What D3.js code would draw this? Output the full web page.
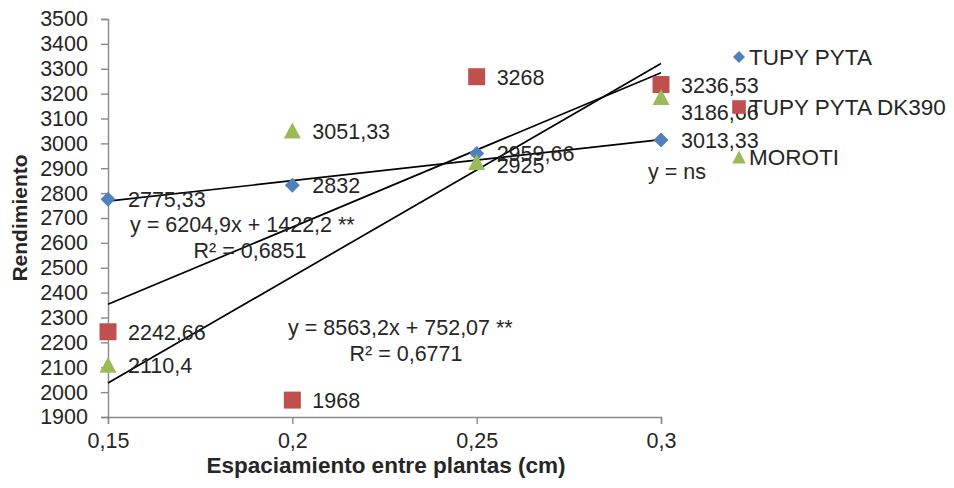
<!DOCTYPE html>
<html><head><meta charset="utf-8">
<script src="https://cdn.jsdelivr.net/npm/d3@7"></script>
<style>body{margin:0;background:#fff}text{font-family:"Liberation Sans",Arial,sans-serif;fill:#262626}</style>
</head><body><svg id="c" width="954" height="488"></svg>
<script>
const spacing = [0.15, 0.2, 0.25, 0.3];
const tupyPyta = [2775.33, 2832, 2959.66, 3013.33];
const tupyPytaDK390 = [2242.66, 1968, 3268, 3236.53];
const moroti = [2110.4, 3051.33, 2925, 3186.66];
const tupyPytaLabels = ["2775,33", "2832", "2959,66", "3013,33"];
const dk390Labels = ["2242,66", "1968", "3268", "3236,53"];
const morotiLabels = ["2110,4", "3051,33", "2925", "3186,66"];
const seriesNames = ["TUPY PYTA", "TUPY PYTA DK390", "MOROTI"];
const colors = ["#4F81BD", "#C0504D", "#9BBB59"];
// trendlines: [slope, intercept]
const trendNs = [1650, 2520];
const trendA = [6204.9, 1422.2];
const trendB = [8563.2, 752.07];
const yTicks = d3.range(1900, 3501, 100);
const xTicks = [0.15, 0.2, 0.25, 0.3];
const xTickLabels = ["0,15", "0,2", "0,25", "0,3"];

const FS = "21.5px";
const svg = d3.select("#c");
const x = d3.scaleLinear().domain([0.15, 0.3]).range([108, 661]);
const y = d3.scaleLinear().domain([1900, 3500]).range([417, 19]);

// axes
const yAxis = svg.append("g").attr("transform", "translate(108,0)")
  .call(d3.axisLeft(y).tickValues(yTicks).tickSize(7).tickSizeOuter(7).tickFormat(d3.format("d")));
const xAxis = svg.append("g").attr("transform", "translate(0,417)")
  .call(d3.axisBottom(x).tickValues(xTicks).tickSize(7).tickSizeOuter(7).tickFormat((d,i)=>xTickLabels[i]));
[yAxis, xAxis].forEach(g => {
  g.selectAll("path,line").attr("stroke", "#898989").attr("stroke-width", 1.4);
  g.selectAll("text").style("font-size", FS).attr("fill", "#262626");
});
yAxis.selectAll("text").attr("x", -20);
xAxis.selectAll("text").attr("y", 16);

// trend lines
[trendNs, trendA, trendB].forEach(t => {
  svg.append("line")
    .attr("x1", x(0.15)).attr("y1", y(t[0]*0.15 + t[1]))
    .attr("x2", x(0.3)).attr("y2", y(t[0]*0.3 + t[1]))
    .attr("stroke", "#000").attr("stroke-width", 1.7);
});

function marker(s, k) {
  if (s === 0) { const h = 7.5*k; return `M0,${-h}L${h},0L0,${h}L${-h},0Z`; }
  if (s === 1) { const h = 8.5*k; return `M${-h},${-h}H${h}V${h}H${-h}Z`; }
  const w = 8.5*k, t = 8*k; return `M0,${-t}L${w},${t}L${-w},${t}Z`;
}
const data = [tupyPyta, tupyPytaDK390, moroti];
const labels = [tupyPytaLabels, dk390Labels, morotiLabels];
const labelDy = {"3186,66": 15, "2925": 3};

data.forEach((vals, s) => {
  svg.append("g").selectAll("path").data(vals).join("path")
    .attr("d", marker(s, 1))
    .attr("transform", (d,i) => `translate(${x(spacing[i])},${y(d)})`)
    .attr("fill", colors[s]);
  svg.append("g").selectAll("text").data(vals).join("text")
    .attr("x", (d,i) => x(spacing[i]) + 20)
    .attr("y", (d,i) => y(d) + 8 + (labelDy[labels[s][i]] || 0))
    .style("font-size", FS)
    .text((d,i) => labels[s][i]);
});

// legend
seriesNames.forEach((n, s) => {
  const ly = [57, 107, 157][s];
  svg.append("path").attr("d", marker(s, 0.8))
    .attr("transform", `translate(739,${ly})`).attr("fill", colors[s]);
  svg.append("text").attr("x", 749).attr("y", ly + 8).style("font-size", "22.5px").text(n);
});

// equations
const ann = [
  ["y = 6204,9x + 1422,2 **", 130, 232, "start"],
  ["R² = 0,6851", 250, 258, "middle"],
  ["y = 8563,2x + 752,07 **", 288, 335, "start"],
  ["R² = 0,6771", 406, 361, "middle"],
  ["y = ns", 648, 179, "start"]
];
ann.forEach(a => svg.append("text").attr("x", a[1]).attr("y", a[2]).attr("text-anchor", a[3]).style("font-size", FS).text(a[0]));

// axis titles
svg.append("text").attr("transform", "translate(27,218) rotate(-90)").attr("text-anchor", "middle")
  .style("font-size", "21px").style("font-weight", "bold").text("Rendimiento");
svg.append("text").attr("x", 386).attr("y", 473).attr("text-anchor", "middle")
  .style("font-size", "22.5px").style("font-weight", "bold").text("Espaciamiento entre plantas (cm)");
</script></body></html>
